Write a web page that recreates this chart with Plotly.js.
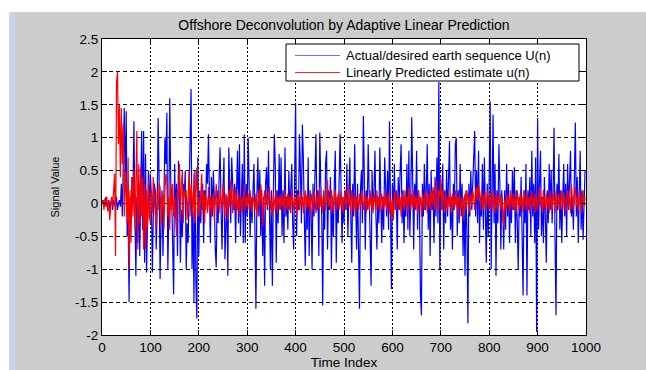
<!DOCTYPE html>
<html>
<head>
<meta charset="utf-8">
<script src="https://cdn.plot.ly/plotly-3.0.1.min.js"></script>
<style>
html,body{margin:0;padding:0;background:#ffffff;}
#chart{width:646px;height:370px;}
</style>
</head>
<body>
<div id="chart"></div>
<script>
// Time index step (samples shown every 2 time units)
var timeStep = 2;

// Actual/desired earth sequence U(n)
var actualU = [
0,.05,-.05,0,.1,-.05,0,.05,-.1,0,.1,-.1,.05,0,-.05,.1,-.1,0,.05,-.05,
.3,-.2,1.0,1.45,.2,1.4,-.5,-.25,-1.5,.1,-.3,.4,.2,1.25,-.2,-1.1,.1,-.6,.3,-.8,
.2,1.1,-.4,1.1,-.9,.75,-1.05,.1,.5,-.2,
.45,.1,-1.05,-.2,.3,.2,-.7,-.1,1.3,.4,-1.15,-.3,.2,-.8,.1,1.0,.6,1.38,-1.0,-.2,
1.6,.3,.1,-.6,-1.38,.6,-.2,.3,-.8,.65,.2,-.9,-.1,-.5,.3,.1,.5,-1.0,-.3,-.6,
.2,1.1,1.74,-1.0,-.1,-1.5,.5,-1.2,-1.75,.7,
-.8,.2,-.3,.1,.3,-.6,.2,-.1,.6,.3,1.05,.1,-.6,.4,-.2,.5,.1,-.7,-.97,.2,
-.3,.4,.85,-.1,-.7,.2,.7,-.85,-.4,.1,-1.1,.85,.2,-.3,.7,.4,-.1,.3,-.6,.2,
.8,-.3,.9,-.5,.1,.6,-.6,1.05,-.6,.3,
-.2,1.0,.3,-.5,.1,-.3,.2,.6,-.4,-1.6,.1,.7,-.2,.5,-.5,.2,-.8,.1,-1.25,.3,
.55,-.1,.8,-.3,-1.0,.2,-1.25,.1,1.05,.6,-.9,.2,-.3,.75,-.1,.7,-.5,.2,-.6,.85,
-.2,.1,-.4,.5,-.1,.2,.6,-.3,-.7,.4,
1.53,-.5,.2,-.1,1.05,.5,-.3,1.2,.7,-.2,-.95,.1,-.4,.7,-.8,.2,-.1,-1.0,.3,-.2,
.5,1.05,-.1,.2,-.8,1.08,.3,-.2,-1.55,.1,-.4,.6,.8,-.7,.2,-.1,.4,-1.0,.1,-.5,
.3,.8,-.9,.1,-.3,.5,1.05,.2,-.6,.1,
-.3,.2,-.1,.6,-.5,.1,.7,-.2,-.9,.3,-.2,.9,.1,-.7,.3,-.5,-1.6,.2,.5,-.3,
1.33,.4,-.7,.2,-.1,.9,.3,-.3,-1.25,.5,-.1,.2,.8,-.2,-.7,.1,-.3,.85,.2,-.6,
.1,-.4,.7,.3,-.2,.5,-.4,1.25,.2,-1.3,
.3,-.2,.6,-.1,.2,-.7,.4,-.1,.5,.9,-.3,.2,-.6,.1,-.2,.6,-.4,.8,-.5,.1,
1.31,.2,-.7,.3,-.1,.8,-.4,.2,-.1,-1.4,-1.7,.3,-.2,.6,-.1,.2,.9,-.4,.3,-.8,
.5,-.1,.2,-.6,.4,-.2,.7,-.3,1.85,-1.0,
.3,-.1,.6,-.7,.2,-.3,.5,-.2,.65,.95,-.4,.1,-.7,.3,-.1,.9,1.0,-.5,.2,-.3,
.6,-.2,.3,-.8,.1,-1.1,.2,-.4,-1.82,.3,-.2,.5,-.1,.3,.7,1.1,-.2,.5,-.3,.8,
-.6,.1,-.2,.6,-.4,.7,-.1,-.9,.3,-.5,
.4,1.55,-1.0,.2,1.35,-.3,.6,-1.1,.2,-.3,.9,.3,-.7,.2,-.1,-.7,.2,-.4,.6,-.2,
.3,-.6,.1,-.3,.5,-.1,.55,-.6,.2,-.3,-1.0,.1,-.2,.4,-.6,-1.4,.2,-.3,.6,-1.4,
.2,-.1,.4,-.5,.8,-.2,.3,-.6,.7,-1.95,
1.3,-.4,.3,.8,-.5,.1,-.6,.4,-.2,-.9,.2,-.3,.6,-.1,.5,-.3,.2,1.15,-.5,-1.7,
.3,-.1,.75,-.4,.2,-.6,.1,.6,-.2,.3,-.5,.6,-.1,.3,.8,-.2,.1,-.4,.6,1.23,
-.2,.4,-.6,.1,.8,-.4,.2,-.55,.3,.5
];

// Linearly predicted estimate u(n)
var predictedU = [
0,.05,-.1,.08,-.05,.1,-.12,.05,-.25,.02,.1,-.05,.15,.45,-.8,1.85,2.0,.9,1.5,.4,
1.45,.6,1.2,-.2,.5,.1,-.3,.7,-1.0,.2,-.6,.4,-.2,.5,-.4,.3,1.1,-.7,.6,-.3,
.55,-.2,.4,-.7,.3,-.7,.2,-.4,.35,-.2,
-.3,.2,-.15,.4,.1,-.3,-.4,.2,-.1,.3,.25,-.3,.1,.15,-.4,.2,.45,.37,-.2,.1,
-.4,.3,-.1,.3,-.2,.1,-.35,-.5,.2,.1,.6,-.2,.3,.5,-.3,.2,.1,.2,-.25,.35,
.5,-.2,.3,.1,-.2,.45,-.3,.2,.55,-.2,
.1,-.2,.3,.45,-.1,.2,-.3,.15,.05,-.15,.25,-.1,.1,-.2,.05,.15,-.25,.1,.3,-.05,
.1,-.15,.2,.05,-.1,.3,.05,-.2,.15,.1,-.25,.2,-.05,.35,.1,-.15,.2,-.1,.25,.05,
-.1,.15,-.2,.1,.05,-.15,.2,.3,-.1,.1,
-.05,.15,-.1,.2,0,-.15,.1,.05,-.1,.15,-.2,.1,.2,-.05,.3,.1,-.35,.05,.2,-.1,
.15,-.05,.1,.25,-.1,.05,-.2,.15,.05,-.1,.2,-.15,.1,.05,-.1,.15,-.05,.1,-.15,.2,
.05,-.1,.15,-.05,.1,-.15,.2,.05,-.1,.1,
.05,-.2,.15,.1,-.1,.2,-.05,.1,-.15,.05,.2,-.1,.15,-.05,.1,-.2,.15,.05,-.1,.2,
.1,-.15,.05,.15,-.1,.25,-.05,.1,-.15,.2,.05,-.1,.15,.35,-.05,.1,-.1,.2,.05,-.15,
.1,.2,-.1,.05,.15,-.1,.2,-.05,.1,-.15,
.1,.2,-.1,.15,.3,-.05,.1,-.15,.2,.05,-.1,.15,-.2,.1,.05,-.1,.15,-.05,.1,.2,
-.1,.05,.15,-.15,.1,.05,-.1,.2,-.05,.1,-.15,.15,.05,-.1,.2,-.05,.1,-.15,.05,.15,
-.1,.1,-.05,.2,-.1,.05,.15,-.15,.1,-.2,
.05,-.25,.15,.2,-.1,.05,.15,-.1,.1,-.2,.15,.05,-.1,.2,-.05,.1,-.15,.25,.05,-.1,
.15,-.05,.2,-.1,.1,.05,-.15,.2,-.05,.1,-.2,.15,.05,-.1,.2,.1,-.15,.15,.05,-.1,
.2,-.05,.25,.1,-.1,.35,.05,-.15,.2,.1,
.4,-.1,.2,.05,-.15,.15,.05,-.1,.2,-.05,.1,-.15,.15,.05,-.1,.2,-.05,.1,-.2,.15,
.05,-.1,.1,-.25,.05,.15,-.1,.2,.05,-.15,.1,.15,-.05,.2,.1,-.1,.15,.25,.05,.3,
.15,-.1,.2,.1,-.1,.15,.05,-.1,.2,.1,
-.1,.15,.05,-.1,.2,.05,-.15,.1,.15,-.1,.05,.15,-.1,.1,-.2,-.35,.05,-.1,.15,-.05,
.1,-.15,.2,.05,-.1,.15,-.05,.1,-.15,.2,.05,-.1,.15,-.05,.1,-.15,.2,.05,-.1,.15,
-.05,.1,-.15,.1,.2,-.05,.1,-.15,.15,.05,
-.1,.15,.25,-.05,.1,-.15,.2,.05,-.1,.15,-.05,.1,-.15,.2,.05,-.1,.15,.1,-.15,.2,
-.05,.1,.15,-.1,.05,.2,-.1,.15,.05,-.15,.1,.2,-.05,.1,-.15,.3,.05,-.1,.15,.25,
-.05,.1,-.1,.2,.05,-.15,.1,.2,-.05,.1
];

var seriesNames = ['Actual/desired earth sequence U(n)', 'Linearly Predicted estimate u(n)'];
var seriesColors = ['#0000ff', '#ff0000'];
var legendLineColors = ['#7070ff', '#ff2020'];
var xTicks = [0,100,200,300,400,500,600,700,800,900,1000];
var yTicks = [-2,-1.5,-1,-0.5,0,0.5,1,1.5,2,2.5];
var yTickText = ['-2','-1.5','-1','-0.5','0','0.5','1','1.5','2','2.5'];

var timeIndex = actualU.map(function(v,i){return i*timeStep;});

var FONT = 'Liberation Sans, Arial, sans-serif';

var traces = [
  {x: timeIndex, y: actualU, type:'scatter', mode:'lines',
   name: seriesNames[0], line:{color:seriesColors[0], width:1.2}},
  {x: timeIndex, y: predictedU, type:'scatter', mode:'lines',
   name: seriesNames[1], line:{color:seriesColors[1], width:1.2}}
];

// plot area: l=102, w=484, t=39, h=296
function px2x(px){return (px-102)/484;}
function py2y(py){return (335-py)/296;}

var legendRows = [55.5, 72.5];
var shapes = [
  {type:'rect', xref:'paper', yref:'paper', x0:-0.3, x1:1.3, y0:py2y(12), y1:py2y(-5),
   fillcolor:'#ffffff', line:{width:0}, layer:'above'},
  {type:'rect', xref:'paper', yref:'paper', x0:-0.3, x1:px2x(9), y0:py2y(375), y1:py2y(12),
   fillcolor:'#ffffff', line:{width:0}, layer:'above'},
  {type:'rect', xref:'paper', yref:'paper', x0:px2x(9), x1:px2x(15), y0:py2y(375), y1:py2y(12),
   fillcolor:'#c4d4ea', line:{width:0}, layer:'above'},
  // legend box
  {type:'rect', xref:'paper', yref:'paper', x0:px2x(286), x1:px2x(579), y0:py2y(81), y1:py2y(44),
   fillcolor:'#ffffff', line:{color:'#000', width:1}, layer:'above'}
];
var annotations = [];
seriesNames.forEach(function(nm, i){
  shapes.push({type:'line', xref:'paper', yref:'paper', x0:px2x(295), x1:px2x(340),
    y0:py2y(legendRows[i]), y1:py2y(legendRows[i]), line:{color:legendLineColors[i], width:1.2}, layer:'above'});
  annotations.push({xref:'paper', yref:'paper', x:px2x(344), y:py2y(legendRows[i]),
    xanchor:'left', yanchor:'middle', showarrow:false, text:nm,
    font:{family:FONT, size:13, color:'#000'}});
});

var layout = {
  width:646, height:370,
  margin:{l:102, r:60, t:39, b:35, pad:0},
  paper_bgcolor:'#cccccc',
  plot_bgcolor:'#ffffff',
  font:{family:FONT, size:13, color:'#000'},
  showlegend:false,
  title:{text:'Offshore Deconvolution by Adaptive Linear Prediction',
         font:{family:FONT, size:14, color:'#000'},
         x:0.5, xref:'paper', xanchor:'center',
         y:1-25/370, yref:'container', yanchor:'middle'},
  xaxis:{range:[0,1000], tickvals:xTicks, ticktext:xTicks.map(String),
         ticks:'inside', ticklen:5, tickcolor:'#000', tickwidth:1,
         showline:true, linecolor:'#000', linewidth:1, mirror:'ticks',
         showgrid:true, gridcolor:'#000', gridwidth:1, griddash:'2px,2px',
         zeroline:false, tickfont:{family:FONT, size:13.5, color:'#000'},
         title:{text:'Time Index', font:{family:FONT, size:13.5, color:'#000'}, standoff:1}},
  yaxis:{range:[-2,2.5], tickvals:yTicks, ticktext:yTickText,
         ticks:'inside', ticklen:5, tickcolor:'#000', tickwidth:1,
         showline:true, linecolor:'#000', linewidth:1, mirror:'ticks',
         showgrid:true, gridcolor:'#000', gridwidth:1, griddash:'4px,3px',
         zeroline:false, tickfont:{family:FONT, size:13.5, color:'#000'},
         title:{text:'Signal Value', font:{family:FONT, size:11, color:'#000'}, standoff:13}},
  shapes: shapes,
  annotations: annotations
};

Plotly.newPlot('chart', traces, layout, {staticPlot:true, displayModeBar:false});
</script>
</body>
</html>
